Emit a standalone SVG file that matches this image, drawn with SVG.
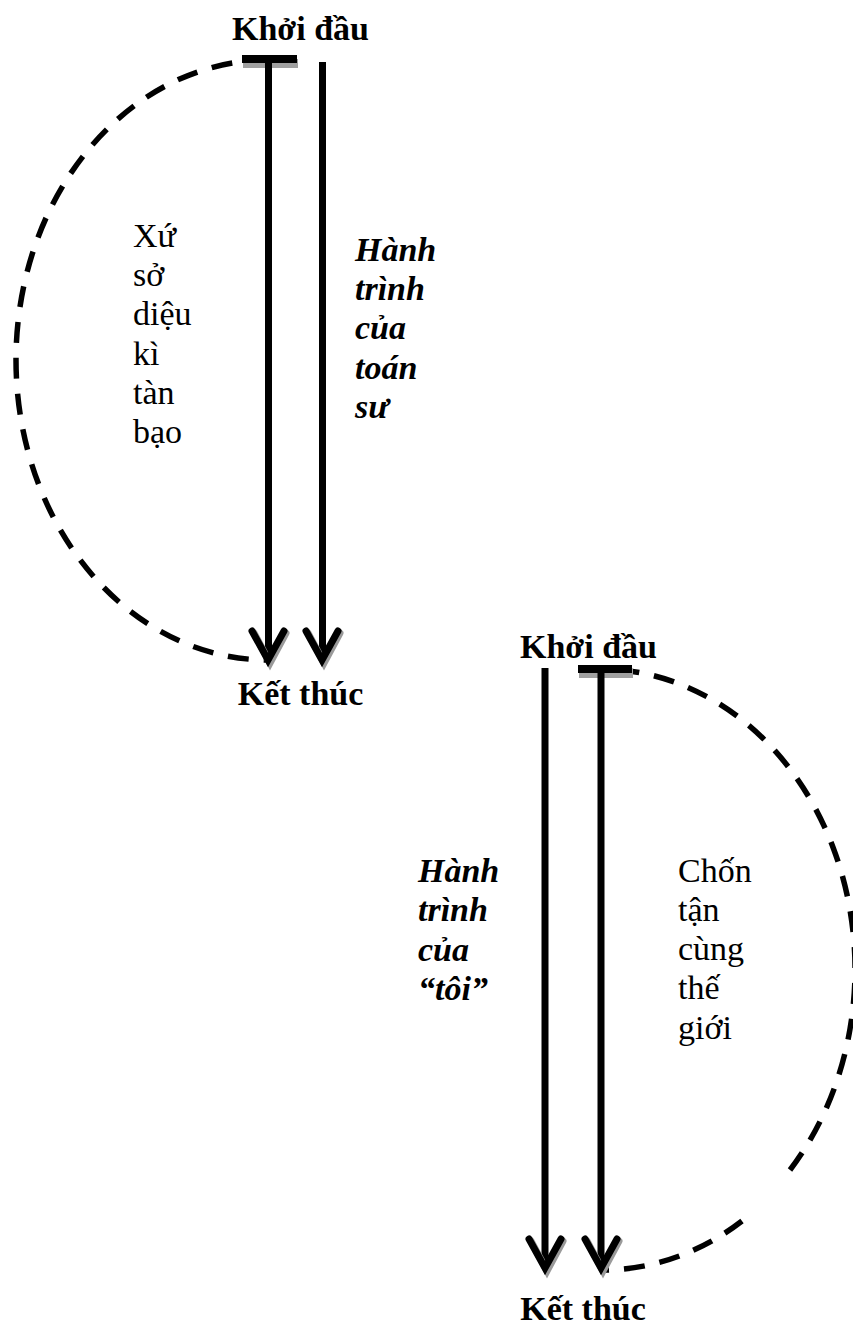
<svg xmlns="http://www.w3.org/2000/svg" width="853" height="1332" viewBox="0 0 853 1332">
<style>
.bg{fill:#ffffff}
.head{font-family:"Liberation Serif","Times New Roman",serif;font-size:34px;font-weight:bold;fill:#000;text-anchor:middle}
.body{font-family:"Liberation Serif","Times New Roman",serif;font-size:34px;fill:#000}
.bi{font-family:"Liberation Serif","Times New Roman",serif;font-size:34px;font-weight:bold;font-style:italic;fill:#000}
.arc{fill:none;stroke:#000;stroke-width:5.5;stroke-dasharray:21 15}
.shaft{stroke:#000;stroke-width:7;fill:none}
.head-v{fill:none;stroke:#000;stroke-width:7;stroke-linecap:round;stroke-linejoin:miter}
.shadow{fill:none;stroke:#9a9a9a;stroke-width:7;stroke-linecap:round}
.bar{fill:#000}
.barsh{fill:#a0a0a0}
</style>
<rect class="bg" x="0" y="0" width="853" height="1332"/>
<g id="connectors">
  <!-- top diagram -->
  <path class="arc" d="M 268 60 A 252 300 0 0 0 268 660"/>
  <rect class="barsh" x="243" y="59" width="55" height="9"/>
  <rect class="bar" x="242" y="55" width="55" height="8"/>
  <line class="shaft" x1="268.5" y1="59" x2="268.5" y2="658"/>
  <line class="shaft" x1="322.5" y1="62" x2="322.5" y2="658"/>
  <polyline class="shadow" points="254,633 270,663 286,633"/>
  <polyline class="head-v" points="252,631 268,660 284,631"/>
  <polyline class="shadow" points="308,633 324,663 340,633"/>
  <polyline class="head-v" points="306,631 322,660 338,631"/>
  <!-- bottom diagram -->
  <path class="arc" d="M 790 1170 A 255 300.5 0 0 0 601 669"/>
  <path class="arc" d="M 742 1221 A 255 300.5 0 0 1 601 1270"/>
  <rect class="barsh" x="579" y="669" width="54" height="9"/>
  <rect class="bar" x="578" y="665" width="54" height="8"/>
  <line class="shaft" x1="545" y1="668" x2="545" y2="1266"/>
  <line class="shaft" x1="601" y1="669" x2="601" y2="1266"/>
  <polyline class="shadow" points="531,1241 547,1271 563,1241"/>
  <polyline class="head-v" points="529,1239 545,1268 561,1239"/>
  <polyline class="shadow" points="587,1241 603,1271 619,1241"/>
  <polyline class="head-v" points="585,1239 601,1268 617,1239"/>
</g>
<g id="start-1"><text class="head" x="300.5" y="40">Khởi đầu</text></g>
<g id="end-1"><text class="head" x="300.5" y="705">Kết thúc</text></g>
<g id="region-1">
  <text class="body" x="133">
    <tspan x="133" y="247">Xứ</tspan>
    <tspan x="133" y="286">sở</tspan>
    <tspan x="133" y="325">diệu</tspan>
    <tspan x="133" y="365">kì</tspan>
    <tspan x="133" y="404">tàn</tspan>
    <tspan x="133" y="443">bạo</tspan>
  </text>
</g>
<g id="journey-1">
  <text class="bi" x="355">
    <tspan x="355" y="261">Hành</tspan>
    <tspan x="355" y="300">trình</tspan>
    <tspan x="355" y="339">của</tspan>
    <tspan x="355" y="379">toán</tspan>
    <tspan x="355" y="418">sư</tspan>
  </text>
</g>
<g id="start-2"><text class="head" x="588.5" y="658">Khởi đầu</text></g>
<g id="end-2"><text class="head" x="583" y="1320">Kết thúc</text></g>
<g id="journey-2">
  <text class="bi" x="418">
    <tspan x="418" y="882">Hành</tspan>
    <tspan x="418" y="921">trình</tspan>
    <tspan x="418" y="961">của</tspan>
    <tspan x="418" y="1000">“tôi”</tspan>
  </text>
</g>
<g id="region-2">
  <text class="body" x="678">
    <tspan x="678" y="882">Chốn</tspan>
    <tspan x="678" y="921">tận</tspan>
    <tspan x="678" y="960">cùng</tspan>
    <tspan x="678" y="999">thế</tspan>
    <tspan x="678" y="1039">giới</tspan>
  </text>
</g>
</svg>
